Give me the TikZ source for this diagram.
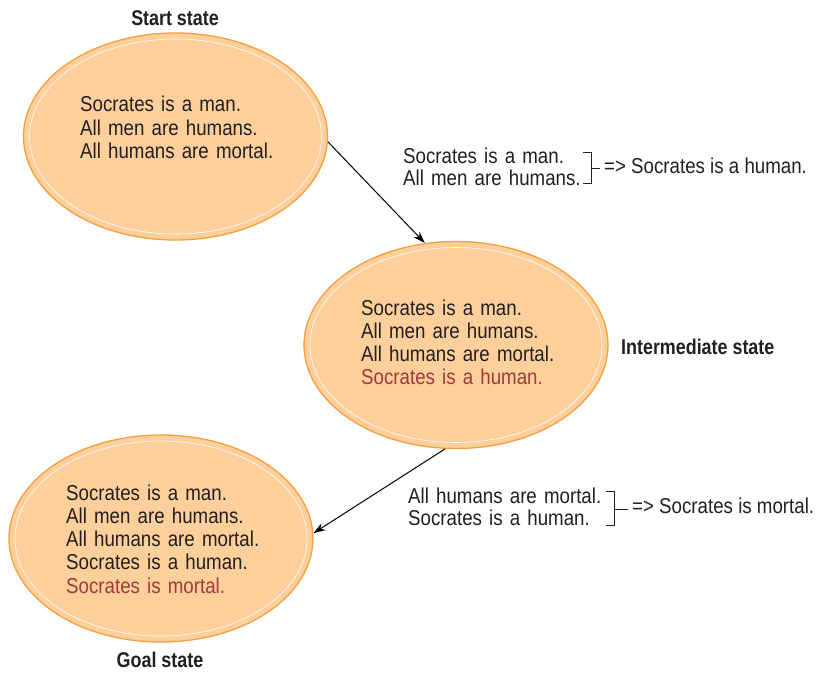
\documentclass[tikz,border=0pt]{standalone}
\usepackage{fontspec}
\setmainfont{Liberation Sans}[FakeStretch=0.87]
\newfontfamily\labfont{Liberation Sans}[FakeStretch=0.84]
\usetikzlibrary{shapes.geometric,arrows.meta}
\definecolor{peach}{HTML}{FCCF9B}
\definecolor{rim}{HTML}{F5A03F}
\definecolor{ink}{HTML}{231F20}
\definecolor{newfact}{HTML}{9E3A3B}
\tikzset{
  statebox/.style={ellipse, draw=rim, line width=1.3pt, fill=peach,
    minimum width=304pt, minimum height=207pt, inner sep=0pt},
  innerrim/.style={draw=white, line width=0.6pt},
  facts/.style={anchor=base west, inner sep=0pt, text width=260pt, align=left,
    font=\fontsize{21.5pt}{23.3pt}\selectfont, text=ink},
  midfacts/.style={anchor=base west, inner sep=0pt, text width=220pt, align=left,
    font=\fontsize{21.5pt}{22pt}\selectfont, text=ink},
  result/.style={anchor=base west, inner sep=0pt,
    font=\fontsize{21.5pt}{22pt}\selectfont, text=ink},
  statelabel/.style={inner sep=0pt, font=\labfont\bfseries\fontsize{21.3pt}{24pt}\selectfont, text=ink},
  bracketline/.style={draw=ink, line width=0.8pt},
  infer/.style={draw=black, line width=1pt, -{Stealth[length=12pt,width=8pt]}}
}
\begin{document}
\begin{tikzpicture}[x=1pt,y=-1pt]
\useasboundingbox (0,0) rectangle (818,672);
% states
\node[statebox] (start) at (175.5,136.5) {};
\node[statebox] (inter) at (456,345) {};
\node[statebox] (goal) at (161,538.5) {};
\draw[innerrim] (start.center) ellipse [x radius=146pt, y radius=97.5pt];
\draw[innerrim] (inter.center) ellipse [x radius=146pt, y radius=97.5pt];
\draw[innerrim] (goal.center) ellipse [x radius=146pt, y radius=97.5pt];
% state texts
\node[facts] (starttext) at (80,111.7) {Socrates is a man.\\All men are humans.\\All humans are mortal.};
\node[facts] (intertext) at (361,315) {Socrates is a man.\\All men are humans.\\All humans are mortal.\\\textcolor{newfact}{Socrates is a human.}};
\node[facts] (goaltext) at (66,500) {Socrates is a man.\\All men are humans.\\All humans are mortal.\\Socrates is a human.\\\textcolor{newfact}{Socrates is mortal.}};
% labels
\node[statelabel, anchor=base] (startlab) at (175,25) {Start state};
\node[statelabel, anchor=base west] (interlab) at (621,354) {Intermediate state};
\node[statelabel, anchor=base] (goallab) at (160,667) {Goal state};
% inference 1
\node[midfacts] (prem1) at (403,163) {Socrates is a man.\\All men are humans.};
\draw[bracketline] (583,152) -- (591,152) -- (591,183) -- (583,183);
\draw[bracketline] (591,168) -- (600,168);
\node[result] (concl1) at (604,173) {=> Socrates is a human.};
% inference 2
\node[midfacts] (prem2) at (408,503) {All humans are mortal.\\Socrates is a human.};
\draw[bracketline] (606,491) -- (614,491) -- (614,525) -- (606,525);
\draw[bracketline] (614,509) -- (628,509);
\node[result] (concl2) at (632,513) {=> Socrates is mortal.};
% arrows
\draw[infer] (start.-2) -- (inter.107);
\draw[infer] (inter.-96) -- (goal.2);
\end{tikzpicture}
\end{document}
